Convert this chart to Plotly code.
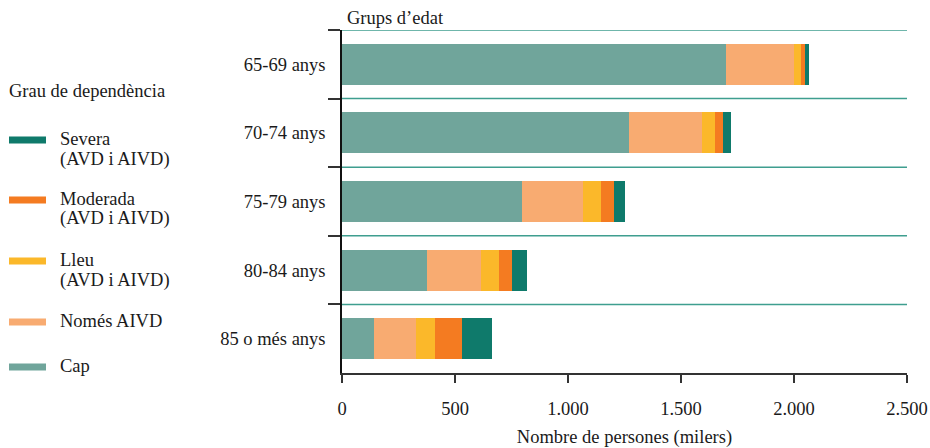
import plotly.graph_objects as go

categories = ["65-69 anys", "70-74 anys", "75-79 anys", "80-84 anys", "85 o més anys"]
cap = [1700, 1270, 797, 376, 142]
nomes_aivd = [300, 322, 270, 239, 184]
lleu = [31, 59, 80, 80, 86]
moderada = [18, 35, 58, 57, 119]
severa = [18, 35, 48, 67, 133]

series_names = ["Cap", "Només AIVD", "Lleu (AVD i AIVD)", "Moderada (AVD i AIVD)", "Severa (AVD i AIVD)"]
series_values = [cap, nomes_aivd, lleu, moderada, severa]
series_colors = ["#70a59b", "#f8ab71", "#fbb82a", "#f47b21", "#0f7a6b"]

# legend text (top to bottom), split into lines
legend_title = "Grau de dependència"
legend_order = [4, 3, 2, 1, 0]
legend_lines = {
    0: ["Cap"],
    1: ["Només AIVD"],
    2: ["Lleu", "(AVD i AIVD)"],
    3: ["Moderada", "(AVD i AIVD)"],
    4: ["Severa", "(AVD i AIVD)"],
}

x_ticks = [0, 500, 1000, 1500, 2000, 2500]

FONT = "Liberation Serif"
FS = 18.5
TXT = "#1a1a1a"
SEP_COLOR = "#3f9e8f"

W, H = 930, 448
ML, MR, MT, MB = 342, 23, 30, 75
PW, PH = W - ML - MR, H - MT - MB


def px_x(px):
    return (px - ML) / PW


def px_y(py):
    return (H - MB - py) / PH


fig = go.Figure()
for name, vals, col in zip(series_names, series_values, series_colors):
    fig.add_trace(go.Bar(
        y=categories, x=vals, orientation="h", name=name,
        marker=dict(color=col, line=dict(width=0)),
        showlegend=False, hoverinfo="x+y+name",
    ))

shapes = []
annotations = []
# separator lines between groups
for k in range(len(categories)):
    shapes.append(dict(type="line", xref="paper", x0=0, x1=1, yref="y",
                       y0=k - 0.5, y1=k - 0.5, line=dict(color=SEP_COLOR, width=1.5), layer="below"))

# legend drawn as swatches + text
annotations.append(dict(text=legend_title, xref="paper", yref="paper",
                        x=px_x(7), y=px_y(91), xanchor="left", yanchor="middle",
                        showarrow=False, font=dict(family=FONT, size=FS, color=TXT)))
item_y = [140, 200, 261, 322, 367]
for yc, idx in zip(item_y, legend_order):
    shapes.append(dict(type="rect", xref="paper", yref="paper",
                       x0=px_x(9), x1=px_x(46), y0=px_y(yc - 3.5), y1=px_y(yc + 3.5),
                       fillcolor=series_colors[idx], line=dict(width=0)))
    for j, line in enumerate(legend_lines[idx]):
        annotations.append(dict(text=line, xref="paper", yref="paper",
                                x=px_x(58), y=px_y(yc - 1 + j * 20), xanchor="left", yanchor="middle",
                                showarrow=False, font=dict(family=FONT, size=FS, color=TXT)))

annotations.append(dict(
    text="Grups d’edat", xref="paper", yref="paper", x=px_x(345), y=px_y(18),
    xanchor="left", yanchor="middle", showarrow=False,
    font=dict(family=FONT, size=FS, color=TXT),
))

fig.update_layout(
    width=W, height=H,
    margin=dict(l=ML, r=MR, t=MT, b=MB, autoexpand=False),
    paper_bgcolor="white", plot_bgcolor="white",
    barmode="stack", bargap=0.4,
    separators=",.",
    showlegend=False,
    font=dict(family=FONT, size=FS, color=TXT),
    xaxis=dict(
        range=[0, 2500], tickvals=x_ticks, tickformat=",d",
        showgrid=False, zeroline=False, automargin=False,
        showline=True, linecolor="#333333", linewidth=1.5,
        ticks="outside", ticklen=8, tickwidth=1.5, tickcolor="#333333",
        ticklabelstandoff=10, tickfont=dict(family=FONT, size=FS, color=TXT),
        title=dict(text="Nombre de persones (milers)", standoff=18,
                   font=dict(family=FONT, size=FS, color=TXT)),
    ),
    yaxis=dict(
        type="category", categoryorder="array", categoryarray=categories,
        range=[4.5, -0.5], automargin=False,
        showgrid=False, zeroline=False,
        showline=True, linecolor="#111111", linewidth=1.5,
        ticks="outside", tickson="boundaries", ticklen=12, tickwidth=1.5, tickcolor="#333333",
        ticklabelstandoff=11, tickfont=dict(family=FONT, size=FS, color=TXT),
    ),
    shapes=shapes,
    annotations=annotations,
)

fig.write_html("out.html", config={"displayModeBar": False},
               post_script="document.body.style.margin='0';document.body.style.overflow='hidden';")
